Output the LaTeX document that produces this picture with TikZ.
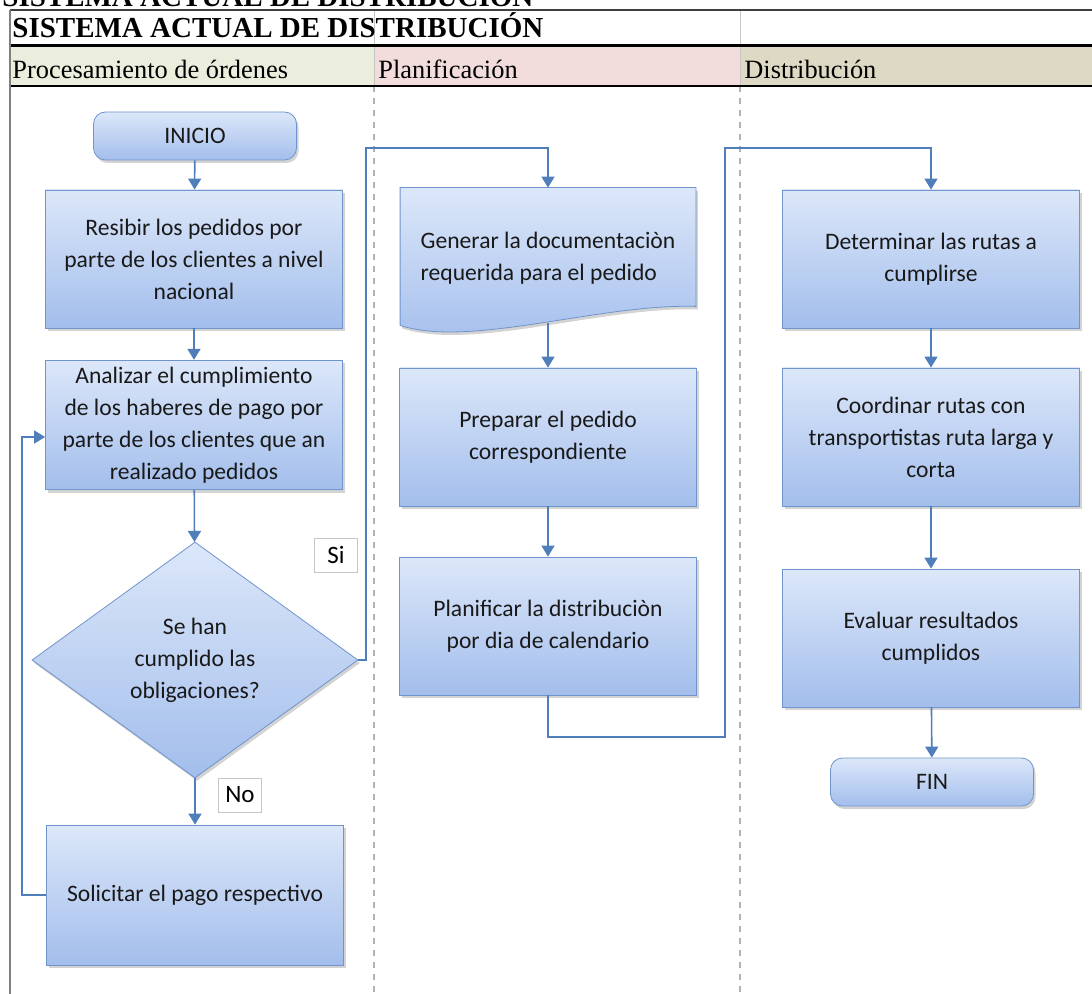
\documentclass[tikz,border=0pt]{standalone}
\usepackage{fontspec}
\setmainfont{Liberation Serif}
\newfontfamily\boxfont{Carlito}
\usetikzlibrary{arrows.meta,shapes.geometric,shadows}
\usepackage{xcolor}
\definecolor{boxtop}{HTML}{DCE7F9}
\definecolor{boxbot}{HTML}{A3BEEC}
\definecolor{boxline}{HTML}{7094CC}
\definecolor{flowline}{HTML}{4F7EBB}
\definecolor{laneO}{HTML}{EBEEDD}
\definecolor{laneP}{HTML}{F2DCDC}
\definecolor{laneD}{HTML}{DDD9C4}
\pgfdeclarelayer{background}
\pgfsetlayers{background,main}

\begin{document}
\begin{tikzpicture}[x=0.5pt,y=-0.5pt,
  % Node Styles
  pbox/.style={rectangle, draw=boxline, top color=boxtop, bottom color=boxbot, drop shadow={opacity=0.35, shadow xshift=1pt, shadow yshift=-1.5pt}, minimum width=148.5pt, minimum height=69pt, align=center, text=black!90, font=\boxfont\fontsize{11.8}{16}\selectfont},
  tbox/.style={pbox, rounded corners=6pt, minimum width=101.5pt, minimum height=24pt},
  docbox/.style={rectangle, minimum width=147.5pt, minimum height=70pt, align=left, text=black!90, font=\boxfont\fontsize{11.8}{16}\selectfont},
  qbox/.style={diamond, draw=boxline, top color=boxtop, bottom color=boxbot, drop shadow={opacity=0.35, shadow xshift=1pt, shadow yshift=-1.5pt}, minimum width=163pt, minimum height=118pt, inner sep=0pt, align=center, text=black!90, font=\boxfont\fontsize{11.8}{16}\selectfont},
  lbl/.style={rectangle, draw=gray!45, fill=white, minimum width=21.5pt, minimum height=17pt, inner sep=1pt, font=\boxfont\fontsize{12.5}{14}\selectfont},
  titletext/.style={anchor=base west, inner sep=0pt, font=\bfseries\fontsize{14.5}{16}\selectfont},
  lanetext/.style={anchor=base west, inner sep=0pt, font=\fontsize{13.2}{15}\selectfont},
  % Arrow Styles
  flowarrow/.style={-{Triangle[width=6.5pt,length=5.5pt]}, flowline, line width=0.8pt}
]
\useasboundingbox (0,0) rectangle (1092,994);

% Frame and lanes
\fill[laneO] (10,46) rectangle (374,86);
\fill[laneP] (374,46) rectangle (740,86);
\fill[laneD] (740,46) rectangle (1092,86);
\draw[gray!45] (374,10) -- (374,86) (740,10) -- (740,86);
\draw[gray!60, dashed, line width=0.8pt] (374,86) -- (374,994) (740,86) -- (740,994);
\draw[black!75, line width=1pt] (10,10) -- (1092,10);
\draw[line width=1.2pt] (10,45.5) -- (1092,45.5);
\draw[line width=1.2pt] (10,86) -- (1092,86);
\draw[gray, line width=1.2pt] (10,10) -- (10,994);

\node[titletext] (T_0) at (2,7) {SISTEMA ACTUAL DE DISTRIBUCIÓN};
\node[titletext] (T_1) at (12,38) {SISTEMA ACTUAL DE DISTRIBUCIÓN};
\node[lanetext] (H_1) at (12,79) {Procesamiento de órdenes};
\node[lanetext] (H_2) at (378,79) {Planificación};
\node[lanetext] (H_3) at (744,79) {Distribución};

% Procesamiento de ordenes
\node[tbox] (O_0) at (195,136) {INICIO};
\node[pbox] (O_1) at (194,259) {Resibir los pedidos por\\parte de los clientes a nivel\\nacional};
\node[pbox, minimum height=58pt] (O_2) at (194,425) {Analizar el cumplimiento\\de los haberes de pago por\\parte de los clientes que an\\realizado pedidos};
\node[qbox] (O_3) at (195,660) {Se han\\cumplido las\\obligaciones?};
\node[pbox, minimum height=70pt] (O_4) at (195,895) {Solicitar el pago respectivo};

% Planificacion
\node[docbox] (P_1) at (548,258) {Generar la documentaciòn\\requerida para el pedido};
\begin{pgfonlayer}{background}
\path[draw=boxline, top color=boxtop, bottom color=boxbot, drop shadow={opacity=0.35, shadow xshift=1pt, shadow yshift=-1.5pt}]
  (P_1.north west) -- (P_1.north east) -- ([yshift=11pt]P_1.south east)
  .. controls ([xshift=26pt,yshift=12.5pt]P_1.south) and ([xshift=-39pt,yshift=-10pt]P_1.south) .. ([yshift=1.5pt]P_1.south west) -- cycle;
\end{pgfonlayer}
\node[pbox] (P_2) at (548,437) {Preparar el pedido\\correspondiente};
\node[pbox] (P_3) at (548,626) {Planificar la distribuciòn\\por dia de calendario};

% Distribucion
\node[pbox] (D_1) at (931,259) {Determinar las rutas a\\cumplirse};
\node[pbox] (D_2) at (931,437) {Coordinar rutas con\\transportistas ruta larga y\\corta};
\node[pbox] (D_3) at (931,638) {Evaluar resultados\\cumplidos};
\node[tbox] (D_4) at (932,782) {FIN};

% Labels
\node[lbl] (S_1) at (336,555) {Si};
\node[lbl] (S_2) at (240,795) {No};

% Bends
\coordinate (J_1) at (366,148);
\coordinate (J_2) at (725,737);
\coordinate (J_3) at (725,148);
\coordinate (J_4) at (22,437);

\draw[flowarrow] (O_0) -- (O_1);
\draw[flowarrow] (O_1) -- (O_2);
\draw[flowarrow] (O_2) -- (O_3);
\draw[flowarrow] (O_3) -- (O_4);
\draw[flowarrow] (O_4.west) -| (J_4) -- (J_4 -| O_2.west);
\draw[flowarrow] (O_3.east) -| (J_1) -| (P_1.north);
\draw[flowarrow] ([yshift=2.5pt]P_1.south) -- (P_2);
\draw[flowarrow] (P_2) -- (P_3);
\draw[flowarrow] (P_3.south) |- (J_2) -- (J_3) -| (D_1.north);
\draw[flowarrow] (D_1) -- (D_2);
\draw[flowarrow] (D_2) -- (D_3);
\draw[flowarrow] (D_3) -- (D_4);

\end{tikzpicture}
\end{document}
